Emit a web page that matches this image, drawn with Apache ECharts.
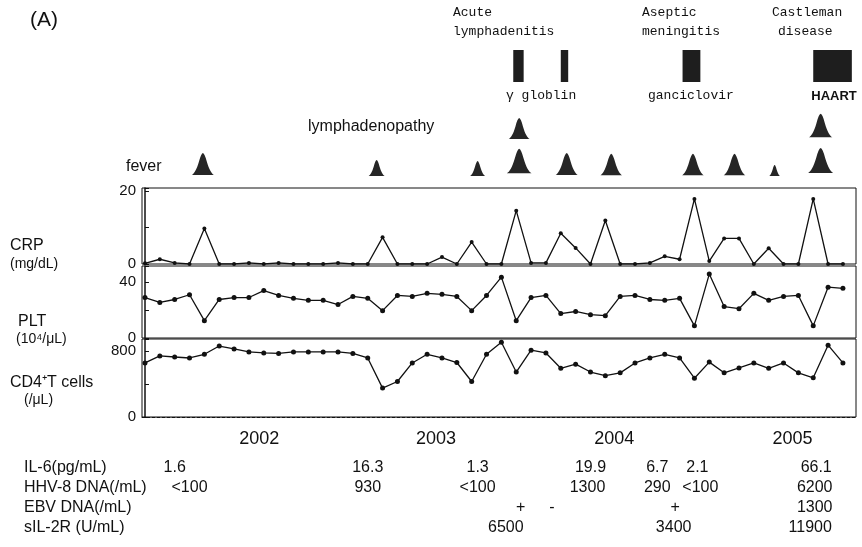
<!DOCTYPE html>
<html>
<head>
<meta charset="utf-8">
<script src="https://cdn.jsdelivr.net/npm/echarts@6/dist/echarts.min.js"></script>
<style>
  html, body { margin: 0; padding: 0; background: #fff; }
  #main { width: 862px; height: 547px; }
</style>
</head>
<body>
<div id="main"></div>
<script>
  // monthly visits, x = visit index (0..47)
  const crp = [0.2, 1.3, 0.3, 0, 9.7, 0, 0, 0.3, 0, 0.3, 0, 0, 0, 0.3, 0, 0,
    7.3, 0, 0, 0, 1.9, 0, 6, 0, 0, 14.6, 0.3, 0.3, 8.4, 4.4, 0, 11.9,
    0, 0, 0.3, 2.1, 1.3, 17.8, 0.8, 7, 7, 0, 4.3, 0, 0, 17.8, 0, 0]
  const plt = [29, 25.5, 27.6, 31, 12.4, 27.6, 29, 29, 34, 30.5, 28.4, 27, 27, 24, 29.8, 28.4,
    19.6, 30.5, 29.8, 32, 31.3, 29.8, 19.6, 30.5, 43.6, 12.4, 29, 30.5, 17.5, 19, 16.7, 16,
    29.8, 30.5, 27.6, 27, 28.4, 8.7, 45.8, 22.5, 21, 32, 27, 29.8, 30.5, 8.7, 36.4, 35.6]
  const cd4 = [655, 740, 727, 715, 760, 860, 824, 788, 776, 770, 788, 788, 788, 788, 770, 715,
    350, 430, 655, 760, 715, 660, 430, 760, 905, 545, 810, 776, 590, 640, 545, 500,
    535, 655, 715, 760, 715, 470, 665, 535, 595, 655, 590, 655, 535, 475, 870, 655]

  // clinical events (visit index, peak height)
  const feverAt = [3.9, 15.6, 22.4, 25.2, 28.4, 31.4, 36.9, 39.7, 42.4, 45.5]
  const feverPeak = [24, 16, 15, 30, 24, 23, 23, 23, 11, 31]
  const lymphAt = [25.2, 45.5]
  const lymphPeak = [21, 27]
  const treatName = ['γ globlin', 'γ globlin', 'ganciclovir', 'HAART']
  const treatStart = [24.8, 28.0, 36.2, 45.0]
  const treatEnd = [25.5, 28.5, 37.4, 47.6]

  const years = ['2002', '2003', '2004', '2005']
  const yearAt = [7.7, 19.6, 31.6, 43.6]

  // lab table: visit index of each value + the value text
  const il6At = [2.0, 15.0, 22.4, 30.0, 34.5, 37.2, 45.2]
  const il6 = ['1.6', '16.3', '1.3', '19.9', '6.7', '2.1', '66.1']
  const hhv8At = [3.0, 15.0, 22.4, 29.8, 34.5, 37.4, 45.1]
  const hhv8 = ['<100', '930', '<100', '1300', '290', '<100', '6200']
  const ebvAt = [25.3, 27.4, 35.7, 45.1]
  const ebv = ['+', '-', '+', '1300']
  const sil2rAt = [24.3, 35.6, 44.8]
  const sil2r = ['6500', '3400', '11900']

  const chart = echarts.init(document.getElementById('main'))

  const X_MIN = -0.2
  const X_MAX = 47.88
  const sans = 'Liberation Sans, Arial, sans-serif'
  const mono = 'Liberation Mono, DejaVu Sans Mono, monospace'

  const gridBase = { left: 142, right: 6 }
  const grids = [
    { ...gridBase, top: 188, height: 76, show: true, borderColor: '#111', borderWidth: 1 }, // CRP
    { ...gridBase, top: 266, height: 72, show: true, borderColor: '#111', borderWidth: 1 }, // PLT
    { ...gridBase, top: 339, height: 78, show: true, borderColor: '#111', borderWidth: 1 }, // CD4
    { ...gridBase, top: 140, height: 36 }, // fever
    { ...gridBase, top: 103, height: 36 }, // lymphadenopathy
    { ...gridBase, top: 50, height: 32 } // treatment
  ]

  const xAxes = grids.map((g, i) => ({
    type: 'value',
    gridIndex: i,
    min: X_MIN,
    max: X_MAX,
    show: i === 2,
    axisLine: { lineStyle: { color: '#111', type: [3, 2] } },
    axisTick: { show: false },
    axisLabel: { show: false },
    splitLine: { show: false }
  }))

  function yAxisFor(i, max, interval, shown) {
    return {
      type: 'value',
      gridIndex: i,
      min: 0,
      max: max,
      interval: interval,
      axisLine: { show: true, lineStyle: { color: '#111', width: 1.5 } },
      axisTick: { show: true, inside: true, length: 4, lineStyle: { color: '#111' } },
      axisLabel: {
        color: '#111',
        fontFamily: sans,
        fontSize: 15,
        margin: 6,
        formatter: (v) => (shown.indexOf(v) > -1 ? String(v) : '')
      },
      splitLine: { show: false }
    }
  }

  const yAxes = [
    yAxisFor(0, 20.8, 10, [0, 20]),
    yAxisFor(1, 51.6, 20, [0, 40]),
    yAxisFor(2, 945, 400, [0, 800]),
    { type: 'value', gridIndex: 3, min: 0, max: 36, show: false },
    { type: 'value', gridIndex: 4, min: 0, max: 36, show: false },
    { type: 'value', gridIndex: 5, min: 0, max: 1, show: false }
  ]

  function lineSeries(data, idx, size) {
    return {
      type: 'line',
      xAxisIndex: idx,
      yAxisIndex: idx,
      data: data.map((v, i) => [i, v]),
      symbol: 'circle',
      symbolSize: size,
      lineStyle: { color: '#111', width: 1.3 },
      itemStyle: { color: '#111' },
      silent: true
    }
  }

  // bell shaped "mountain" marker
  function renderPeak(params, api) {
    const base = api.coord([api.value(0), 0])
    const top = api.coord([api.value(0), api.value(1)])
    const h = base[1] - top[1]
    const w = 12 + h * 0.42
    return {
      type: 'path',
      shape: {
        pathData: 'M0,100 C10,95 22,75 32,40 Q42,2 50,0 Q58,2 68,40 C78,75 90,95 100,100 Z',
        x: base[0] - w / 2,
        y: top[1],
        width: w,
        height: h
      },
      style: { fill: '#262626' }
    }
  }

  function renderTreat(params, api) {
    const p0 = api.coord([api.value(0), 1])
    const p1 = api.coord([api.value(1), 0])
    return {
      type: 'rect',
      shape: { x: p0[0], y: p0[1], width: p1[0] - p0[0], height: p1[1] - p0[1] },
      style: { fill: '#1e1e1e' }
    }
  }

  chart.setOption({
    animation: false,
    grid: grids,
    xAxis: xAxes,
    yAxis: yAxes,
    series: [
      lineSeries(crp, 0, 4),
      lineSeries(plt, 1, 5),
      lineSeries(cd4, 2, 5),
      {
        type: 'custom',
        xAxisIndex: 3,
        yAxisIndex: 3,
        renderItem: renderPeak,
        data: feverAt.map((x, i) => [x, feverPeak[i]]),
        clip: false
      },
      {
        type: 'custom',
        xAxisIndex: 4,
        yAxisIndex: 4,
        renderItem: renderPeak,
        data: lymphAt.map((x, i) => [x, lymphPeak[i]]),
        clip: false
      },
      {
        type: 'custom',
        xAxisIndex: 5,
        yAxisIndex: 5,
        renderItem: renderTreat,
        data: treatStart.map((s, i) => [s, treatEnd[i], treatName[i]]),
        clip: false
      }
    ]
  })

  const px = (v) => chart.convertToPixel({ xAxisIndex: 2 }, v)

  function txt(text, x, y, opts) {
    return {
      type: 'text',
      x: x,
      y: y,
      silent: true,
      style: Object.assign({
        text: text,
        fill: '#111',
        font: '16px ' + sans,
        textAlign: 'left',
        textVerticalAlign: 'middle'
      }, opts || {})
    }
  }

  const graphics = [
    txt('(A)', 30, 20, { font: '21px ' + sans }),
    txt('Acute', 453, 13, { font: '13px ' + mono }),
    txt('lymphadenitis', 453, 32, { font: '13px ' + mono }),
    txt('Aseptic', 642, 13, { font: '13px ' + mono }),
    txt('meningitis', 642, 32, { font: '13px ' + mono }),
    txt('Castleman', 772, 13, { font: '13px ' + mono }),
    txt('disease', 778, 32, { font: '13px ' + mono }),
    txt('γ globlin', 506, 96, { font: '13px ' + mono }),
    txt('ganciclovir', 648, 96, { font: '13px ' + mono }),
    txt('HAART', 834, 96, { font: 'bold 13px ' + sans, textAlign: 'center' }),
    txt('lymphadenopathy', 308, 127),
    txt('fever', 126, 167),
    txt('CRP', 10, 246),
    txt('(mg/dL)', 10, 264, { font: '14px ' + sans }),
    txt('PLT', 18, 322),
    txt('(10⁴/μL)', 16, 339, { font: '14px ' + sans }),
    txt('CD4⁺T cells', 10, 383),
    txt('(/μL)', 24, 400, { font: '14px ' + sans }),
    txt('IL-6(pg/mL)', 24, 468),
    txt('HHV-8 DNA(/mL)', 24, 488),
    txt('EBV DNA(/mL)', 24, 508),
    txt('sIL-2R (U/mL)', 24, 528)
  ]

  years.forEach((y, i) => {
    graphics.push(txt(y, px(yearAt[i]), 439, { textAlign: 'center', font: '18px ' + sans }))
  })

  const rows = [
    [il6At, il6, 468],
    [hhv8At, hhv8, 488],
    [ebvAt, ebv, 508],
    [sil2rAt, sil2r, 528]
  ]
  rows.forEach(([at, vals, y]) => {
    vals.forEach((v, i) => {
      graphics.push(txt(v, px(at[i]), y, { textAlign: 'center' }))
    })
  })

  chart.setOption({ graphic: graphics })
</script>
</body>
</html>
